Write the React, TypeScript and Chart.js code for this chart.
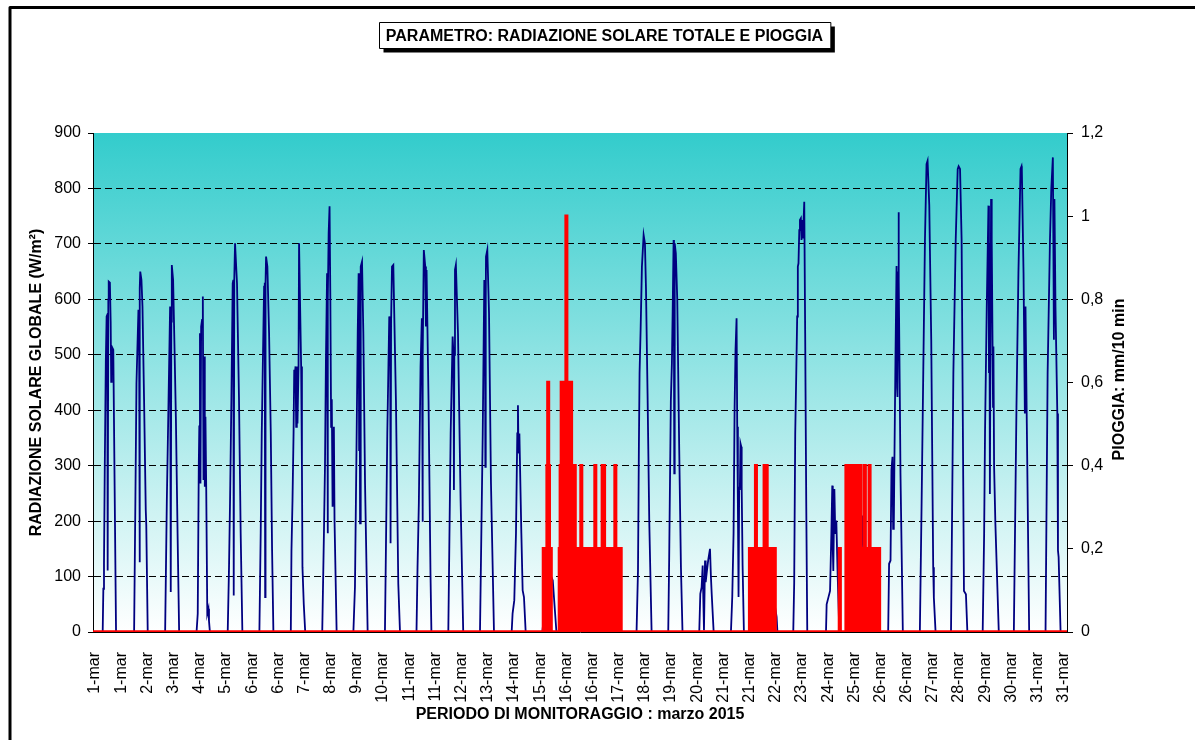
import React, { useEffect, useRef } from 'react';
import { Chart, registerables } from 'chart.js';

Chart.register(...registerables);

// ---------- axis text ----------
const CHART_TITLE = 'PARAMETRO: RADIAZIONE SOLARE TOTALE E PIOGGIA';
const LEFT_TITLE = 'RADIAZIONE SOLARE GLOBALE (W/m²)';
const RIGHT_TITLE = 'PIOGGIA: mm/10 min';
const X_TITLE = 'PERIODO DI MONITORAGGIO : marzo 2015';

// x tick labels (one every 20 hours, as in the original 10-minute series)
const TICK_LABELS = [
  '1-mar', '1-mar', '2-mar', '3-mar', '4-mar', '5-mar', '6-mar', '6-mar', '7-mar', '8-mar',
  '9-mar', '10-mar', '11-mar', '11-mar', '12-mar', '13-mar', '14-mar', '15-mar', '16-mar', '16-mar',
  '17-mar', '18-mar', '19-mar', '20-mar', '21-mar', '21-mar', '22-mar', '23-mar', '24-mar', '25-mar',
  '26-mar', '26-mar', '27-mar', '28-mar', '29-mar', '30-mar', '31-mar', '31-mar',
];
const TICK_STEP_HOURS = 20;
const MONTH_HOURS = 744;
const LEFT_TICKS = [0, 100, 200, 300, 400, 500, 600, 700, 800, 900];
const RIGHT_TICKS = [0, 0.2, 0.4, 0.6, 0.8, 1.0, 1.2];

// ---------- global radiation (W/m²): [hour of day, value] per day ----------
const DAY_01 = [[7.4, 0], [7.9, 78], [8.4, 123], [9.0, 300], [9.8, 490], [10.4, 569], [10.9, 572], [11.2, 111], [11.7, 600], [12.0, 632], [12.9, 630], [13.5, 560], [13.9, 451], [14.3, 515], [15.5, 509], [17.6, 0]];
const DAY_02 = [[7.4, 0], [8.4, 244], [9.2, 448], [10.7, 581], [11.2, 560], [11.5, 126], [11.9, 620], [12.1, 650], [13.0, 635], [13.8, 587], [15.0, 420], [16.3, 220], [16.7, 193], [17.8, 0]];
const DAY_03 = [[7.1, 0], [8.4, 238], [9.7, 418], [10.9, 587], [11.3, 560], [11.5, 72], [11.8, 560], [12.2, 662], [13.2, 635], [14.3, 509], [15.3, 388], [16.6, 178], [17.8, 0]];
const DAY_04 = [[7.1, 0], [8.0, 33], [8.8, 300], [9.2, 371], [9.7, 539], [10.1, 268], [10.6, 551], [11.3, 563], [11.9, 605], [12.4, 274], [12.9, 497], [13.4, 262], [13.9, 388], [14.5, 256], [15.3, 33], [16.2, 42], [16.6, 20], [17.3, 0]];
const DAY_05 = [[6.9, 0], [7.9, 117], [8.7, 238], [9.7, 418], [10.7, 629], [11.2, 635], [11.5, 66], [11.9, 635], [12.5, 701], [13.2, 701], [14.0, 629], [15.5, 424], [16.8, 178], [18.1, 0]];
const DAY_06 = [[7.1, 0], [8.1, 178], [8.9, 358], [9.9, 509], [10.7, 623], [11.2, 630], [11.5, 63], [11.8, 630], [12.2, 677], [13.2, 659], [14.5, 539], [15.8, 358], [16.8, 147], [17.8, 0]];
const DAY_07 = [[7.1, 0], [7.6, 147], [8.4, 238], [9.2, 358], [9.7, 473], [10.2, 465], [10.7, 479], [11.2, 370], [11.7, 479], [12.2, 376], [13.0, 479], [13.4, 701], [13.9, 701], [14.3, 575], [15.0, 479], [15.6, 300], [16.0, 117], [17.0, 50], [18.1, 0]];
const DAY_08 = [[7.1, 0], [8.4, 178], [9.2, 298], [9.9, 485], [10.8, 647], [11.2, 178], [11.5, 600], [12.0, 719], [12.7, 768], [13.3, 600], [13.9, 370], [14.4, 420], [15.0, 226], [16.0, 370], [16.5, 200], [18.1, 0]];
const DAY_09 = [[6.9, 0], [8.1, 81], [9.4, 358], [10.2, 539], [10.9, 647], [11.3, 328], [11.6, 647], [12.0, 196], [12.4, 600], [12.6, 659], [13.5, 668], [14.5, 539], [15.8, 268], [17.8, 0]];
const DAY_10 = [[7.0, 0], [8.8, 358], [10.3, 569], [11.0, 560], [11.3, 160], [11.7, 560], [12.4, 659], [13.4, 662], [15.4, 418], [17.2, 87], [18.5, 0]];
const DAY_11 = [[7.1, 0], [7.9, 117], [8.9, 232], [10.2, 479], [11.2, 566], [11.5, 400], [11.7, 199], [12.0, 500], [12.7, 689], [13.8, 659], [14.3, 551], [14.8, 653], [16.3, 418], [17.8, 105], [18.5, 0]];
const DAY_12 = [[7.4, 0], [9.2, 358], [10.7, 533], [11.4, 500], [11.7, 256], [12.0, 500], [12.5, 653], [13.2, 662], [14.8, 539], [16.8, 238], [18.8, 0]];
const DAY_13 = [[7.6, 0], [9.7, 358], [10.9, 635], [11.4, 600], [11.7, 298], [12.0, 600], [12.2, 677], [13.2, 689], [14.5, 575], [16.0, 268], [18.3, 0]];
const DAY_14 = [[7.8, 0], [8.5, 33], [9.8, 57], [11.1, 178], [12.1, 358], [12.6, 409], [13.0, 330], [13.4, 322], [13.7, 358], [15.2, 178], [16.2, 75], [17.2, 63], [18.5, 0]];
const DAY_15 = [[7.2, 0], [9.0, 40], [12.0, 80], [14.0, 100], [15.2, 93], [16.2, 60], [18.0, 0]];
const DAY_16 = [[7.5, 0], [10.0, 60], [12.0, 120], [14.0, 80], [18.0, 0]];
const DAY_17 = [[7.5, 0], [10.0, 50], [12.5, 100], [15.0, 60], [18.0, 0]];
const DAY_18 = [[7.2, 0], [8.3, 111], [9.0, 340], [9.5, 467], [10.3, 545], [11.3, 659], [12.6, 716], [13.6, 701], [14.4, 620], [15.6, 430], [16.9, 200], [18.7, 0]];
const DAY_19 = [[7.4, 0], [8.1, 129], [9.4, 418], [10.2, 485], [10.9, 599], [11.5, 707], [11.8, 500], [12.0, 286], [12.2, 500], [12.5, 701], [13.2, 683], [14.3, 599], [15.8, 328], [17.1, 117], [18.3, 0]];
const DAY_20 = [[7.1, 0], [7.9, 69], [8.9, 81], [9.7, 120], [10.2, 60], [10.7, 3], [11.2, 80], [11.5, 129], [12.0, 90], [12.7, 105], [13.9, 129], [15.3, 150], [16.0, 100], [16.6, 69], [18.1, 0]];
const DAY_21 = [[7.3, 0], [8.3, 63], [9.3, 178], [10.1, 406], [10.8, 509], [11.6, 566], [12.1, 370], [12.6, 230], [13.1, 63], [13.6, 262], [14.1, 256], [14.6, 340], [15.2, 334], [15.5, 262], [16.2, 120], [17.2, 0]];
const DAY_22 = [[7.5, 0], [10.0, 60], [13.0, 100], [16.0, 60], [18.2, 27], [18.8, 0]];
const DAY_23 = [[6.9, 0], [7.6, 87], [8.4, 358], [9.2, 467], [9.9, 569], [10.4, 659], [10.9, 665], [11.5, 725], [12.0, 743], [12.7, 746], [13.2, 707], [13.8, 743], [14.3, 710], [14.8, 743], [15.3, 776], [16.0, 539], [16.8, 238], [17.6, 0]];
const DAY_24 = [[7.9, 0], [8.4, 50], [9.7, 62], [11.0, 74], [12.0, 177], [12.7, 264], [13.1, 150], [13.5, 110], [14.3, 258], [15.0, 177], [15.8, 201], [16.8, 104], [18.1, 0]];
const DAY_25 = [[7.5, 0], [9.0, 80], [11.0, 150], [11.8, 210], [13.0, 120], [16.0, 80], [18.5, 0]];
const DAY_26 = [[7.4, 0], [8.1, 123], [9.2, 129], [9.9, 292], [10.7, 316], [11.2, 186], [11.7, 190], [12.2, 316], [13.0, 500], [13.8, 660], [14.2, 440], [14.5, 424], [15.0, 650], [15.3, 757], [15.6, 636], [16.2, 450], [16.8, 286], [18.6, 0]];
const DAY_27 = [[7.6, 0], [8.9, 225], [10.2, 467], [11.5, 708], [12.7, 844], [13.5, 850], [14.8, 769], [16.3, 527], [17.8, 117], [18.3, 62], [19.6, 0]];
const DAY_28 = [[7.4, 0], [9.2, 467], [11.0, 708], [12.5, 835], [13.2, 840], [14.3, 835], [15.5, 708], [17.3, 74], [18.8, 68], [19.9, 0]];
const DAY_29 = [[7.6, 0], [8.7, 177], [9.4, 364], [10.7, 587], [12.0, 769], [12.4, 467], [12.7, 700], [13.1, 249], [13.5, 500], [14.0, 781], [14.3, 781], [14.7, 708], [15.5, 406], [15.8, 515], [16.3, 300], [17.3, 195], [19.9, 0]];
const DAY_30 = [[7.4, 0], [9.4, 406], [10.9, 648], [12.5, 835], [13.3, 840], [13.5, 835], [14.8, 648], [15.8, 394], [16.3, 587], [17.3, 376], [19.1, 0]];
const DAY_31 = [[7.6, 0], [9.2, 467], [11.0, 708], [12.0, 799], [13.2, 856], [13.6, 700], [14.0, 527], [14.4, 781], [14.8, 781], [15.2, 587], [16.6, 394], [17.1, 147], [17.6, 135], [19.1, 0]];

const RADIATION_DAYS = [
  DAY_01, DAY_02, DAY_03, DAY_04, DAY_05, DAY_06, DAY_07, DAY_08, DAY_09, DAY_10,
  DAY_11, DAY_12, DAY_13, DAY_14, DAY_15, DAY_16, DAY_17, DAY_18, DAY_19, DAY_20,
  DAY_21, DAY_22, DAY_23, DAY_24, DAY_25, DAY_26, DAY_27, DAY_28, DAY_29, DAY_30, DAY_31,
];

// ---------- rain (mm / 10 min): value holds from each hour of the month until the next ----------
const RAIN_HOURS = [
  0,
  344.1, 346.9, 347.5, 347.9, 348.5, 349.9,
  356.3, 357.0, 357.8, 358.8, 361.4, 361.8, 365.4, 367.8, 368.2,
  372.8, 373.2, 383.5, 383.9, 389.1, 390.6, 398.8, 399.2, 403.3,
  501.6, 506.2, 506.6, 512.8, 514.8, 521.0,
  570.2, 570.7, 575.3, 586.5, 589.4, 589.8, 593.0, 593.4, 600.7,
  744,
];
const RAIN_MM = [
  0,
  0.2, 0.4, 0.6, 0.4, 0.2, 0,
  0.2, 0.4, 0.6, 0.4, 1.0, 0.6, 0.2, 0.4, 0.2,
  0.4, 0.2, 0.4, 0.2, 0.4, 0.2, 0.4, 0.2, 0,
  0.2, 0.4, 0.2, 0.4, 0.2, 0,
  0.2, 0, 0.4, 0.2, 0.4, 0.2, 0.4, 0.2, 0,
  0,
];

const FONT_FAMILY = "'Liberation Sans', Arial, Helvetica, sans-serif";

const decorPlugin = {
  id: 'decor',
  beforeDraw(chart: any) {
    const { ctx, chartArea } = chart;
    const { left, top, right, bottom } = chartArea;
    const g = ctx.createLinearGradient(0, top, 0, bottom);
    g.addColorStop(0, '#33CCCC');
    g.addColorStop(1, '#FFFFFF');
    ctx.save();
    ctx.fillStyle = g;
    ctx.fillRect(left, top, right - left, bottom - top);
    ctx.restore();
  },
  afterDraw(chart: any) {
    const { ctx, chartArea } = chart;
    ctx.save();
    // outer frame
    ctx.strokeStyle = '#000';
    ctx.lineWidth = 3;
    ctx.lineJoin = 'round';
    ctx.beginPath();
    ctx.moveTo(10, 760);
    ctx.lineTo(10, 7.5);
    ctx.lineTo(1220, 7.5);
    ctx.stroke();

    // title box with shadow
    ctx.font = `bold 16px ${FONT_FAMILY}`;
    const tw = ctx.measureText(CHART_TITLE).width;
    const cx = 604.5;
    const bw = tw + 14;
    const bx = Math.round(cx - bw / 2) + 0.5;
    const by = 22.5;
    const bh = 26;
    ctx.fillStyle = '#000';
    ctx.fillRect(bx + 4, by + 4, bw, bh);
    ctx.fillStyle = '#fff';
    ctx.fillRect(bx, by, bw, bh);
    ctx.lineWidth = 1;
    ctx.strokeStyle = '#000';
    ctx.strokeRect(bx, by, bw, bh);
    ctx.fillStyle = '#000';
    ctx.textAlign = 'center';
    ctx.textBaseline = 'middle';
    ctx.fillText(CHART_TITLE, cx, by + bh / 2 + 1);

    // right axis title, reading bottom to top
    ctx.translate(1120, (chartArea.top + chartArea.bottom) / 2 - 3);
    ctx.rotate(-Math.PI / 2);
    ctx.fillText(RIGHT_TITLE, 0, 0);
    ctx.restore();
  },
};

export default function App() {
  const canvasRef = useRef<HTMLCanvasElement | null>(null);

  useEffect(() => {
    const canvas = canvasRef.current;
    if (!canvas) return;

    const radiationPoints = RADIATION_DAYS.flatMap((day, i) =>
      day.map(([h, v]) => ({ x: i * 24 + h, y: v }))
    );
    const rainPoints = RAIN_HOURS.map((h, i) => ({ x: h, y: RAIN_MM[i] }));

    const tickFont = { family: FONT_FAMILY, size: 16 };
    const titleFont = { family: FONT_FAMILY, size: 16, weight: 'bold' as const };

    const chart = new Chart(canvas, {
      type: 'line',
      data: {
        datasets: [
          {
            label: 'Pioggia',
            data: rainPoints,
            yAxisID: 'y1',
            borderColor: '#FF0000',
            backgroundColor: '#FF0000',
            borderWidth: 3.5,
            stepped: 'before',
            fill: 'origin',
            pointRadius: 0,
            order: 0,
          },
          {
            label: 'Radiazione',
            data: radiationPoints,
            yAxisID: 'y',
            borderColor: '#000080',
            borderWidth: 1.8,
            fill: false,
            pointRadius: 0,
            tension: 0,
            order: 1,
          },
        ],
      },
      options: {
        animation: false,
        responsive: false,
        devicePixelRatio: 1,
        layout: { padding: { top: 133, left: 0, right: 0, bottom: 0 } },
        plugins: {
          legend: { display: false },
          tooltip: { enabled: false },
          title: { display: false },
        },
        scales: {
          x: {
            type: 'linear',
            min: 0,
            max: MONTH_HOURS,
            afterBuildTicks: (scale: any) => {
              scale.ticks = TICK_LABELS.map((_, i) => ({ value: i * TICK_STEP_HOURS }));
            },
            afterFit: (scale: any) => {
              scale.height = 108;
            },
            ticks: {
              autoSkip: false,
              minRotation: 90,
              maxRotation: 90,
              padding: 12,
              labelOffset: 2,
              color: '#000',
              font: tickFont,
              callback: (_v: any, i: number) => TICK_LABELS[i],
            },
            grid: { display: false },
            border: { display: true, color: '#000' },
            title: {
              display: true,
              text: X_TITLE,
              color: '#000',
              font: titleFont,
              padding: { top: 0, bottom: 16 },
            },
          },
          y: {
            position: 'left',
            min: 0,
            max: 900,
            afterBuildTicks: (scale: any) => {
              scale.ticks = LEFT_TICKS.map((v) => ({ value: v }));
            },
            afterFit: (scale: any) => {
              scale.width = 93;
            },
            ticks: { padding: 7, color: '#000', font: tickFont },
            grid: {
              color: (c: any) =>
                c.tick && (c.tick.value === 0 || c.tick.value === 900) ? 'rgba(0,0,0,0)' : '#000',
              tickColor: '#000',
              tickLength: 5,
              tickBorderDash: [],
              lineWidth: 1,
            },
            border: { display: true, color: '#000', width: 1, dash: [7, 4] },
            title: {
              display: true,
              text: LEFT_TITLE,
              color: '#000',
              font: titleFont,
              padding: { top: 27, bottom: 0 },
            },
          },
          y1: {
            position: 'right',
            min: 0,
            max: 1.2,
            afterBuildTicks: (scale: any) => {
              scale.ticks = RIGHT_TICKS.map((v) => ({ value: v }));
            },
            afterFit: (scale: any) => {
              scale.width = 128;
            },
            ticks: {
              padding: 8,
              color: '#000',
              font: tickFont,
              callback: (v: any) => String(Math.round(Number(v) * 10) / 10).replace('.', ','),
            },
            grid: {
              drawOnChartArea: false,
              color: '#000',
              tickColor: '#000',
              tickLength: 6,
            },
            border: { display: true, color: '#000', width: 1 },
          },
        },
      },
      plugins: [decorPlugin],
    } as any);

    return () => {
      chart.destroy();
    };
  }, []);

  return (
    <div style={{ position: 'fixed', left: 0, top: 0, width: 1195, height: 740, background: '#fff' }}>
      <canvas ref={canvasRef} width={1195} height={740} style={{ display: 'block', width: 1195, height: 740 }} />
    </div>
  );
}
